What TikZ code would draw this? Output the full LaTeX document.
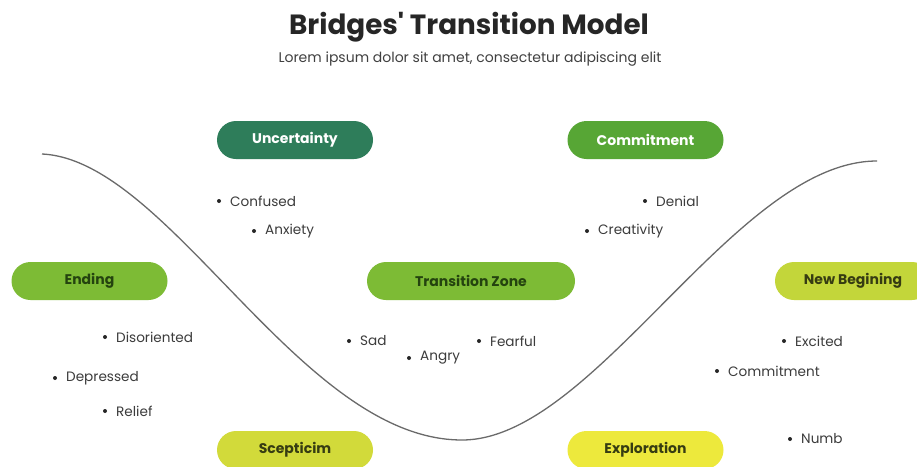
\documentclass[tikz,border=0pt]{standalone}
\usepackage{fontspec}
\setmainfont{Poppins}[Ligatures=TeXOff]
\newlength{\du}
\setlength{\du}{1pt}
\definecolor{uncgreen}{HTML}{2E7D5A}
\definecolor{comgreen}{HTML}{57A635}
\definecolor{endgreen}{HTML}{7DBB35}
\definecolor{newgreen}{HTML}{C3D63A}
\definecolor{scepyellow}{HTML}{D2DA3A}
\definecolor{expyellow}{HTML}{EDE93C}
\definecolor{darkgreentext}{HTML}{24430F}
\definecolor{olivetext}{HTML}{363C12}
\definecolor{itemgrey}{HTML}{3C3C3C}
\definecolor{curvegrey}{HTML}{6A6A6A}
\tikzset{
  stage/.style={rounded corners=19\du, minimum width=156\du, minimum height=38\du, inner sep=0pt, font=\bfseries\fontsize{14}{16}\selectfont},
  bullet/.style={circle, fill=black!85, inner sep=0pt, minimum size=4\du},
  item/.style={anchor=west, inner sep=0pt, text=itemgrey, font=\fontsize{13.6}{15}\selectfont},
}

\begin{document}
\begin{tikzpicture}
\pgftransformxscale{1.000000}
\pgftransformyscale{-1.000000}
\useasboundingbox (0\du,0\du) rectangle (917\du,466\du);
\clip (0\du,0\du) rectangle (917\du,466\du);
\fill[white] (0\du,0\du) rectangle (917\du,466\du);
% title
\node[font=\bfseries\fontsize{27.8}{32}\selectfont, text=black!85] (title) at (469\du,27\du){Bridges' Transition Model};
\node[font=\fontsize{14}{16}\selectfont, text=black!75] (subtitle) at (470\du,59\du){Lorem ipsum dolor sit amet, consectetur adipiscing elit};
% curve
\draw[curvegrey, line width=1.3\du] (42\du,154\du) .. controls (170\du,160\du) and (300\du,440\du) .. (462\du,440\du)
  .. controls (595\du,440\du) and (735\du,161\du) .. (877\du,161\du);
% stages
\node[stage, fill=uncgreen, text=white] (uncertainty) at (295\du,140\du){Uncertainty};
\node[stage, fill=comgreen, text=white] (commitment) at (645.5\du,140\du){Commitment};
\node[stage, fill=endgreen, text=darkgreentext] (ending) at (89.5\du,281\du){Ending};
\node[stage, fill=endgreen, text=darkgreentext, minimum width=208\du] (transition) at (471\du,281\du){Transition Zone};
\node[stage, fill=newgreen, text=olivetext] (newbegin) at (853\du,281\du){New Begining};
\node[stage, fill=scepyellow, text=olivetext] (scepticism) at (295\du,450\du){Scepticim};
\node[stage, fill=expyellow, text=olivetext] (exploration) at (645.5\du,450\du){Exploration};
% items
\node[bullet] (b1) at (219\du,201\du){};
\node[item] (confused) at (230\du,201\du){Confused};
\node[bullet] (b2) at (254\du,231\du){};
\node[item] (anxiety) at (265\du,231\du){Anxiety};
\node[bullet] (b3) at (645\du,201\du){};
\node[item] (denial) at (656\du,201\du){Denial};
\node[bullet] (b4) at (587\du,231\du){};
\node[item] (creativity) at (598\du,231\du){Creativity};
\node[bullet] (b5) at (105\du,337\du){};
\node[item] (disoriented) at (116\du,337\du){Disoriented};
\node[bullet] (b6) at (55\du,378\du){};
\node[item] (depressed) at (66\du,378\du){Depressed};
\node[bullet] (b7) at (105\du,411\du){};
\node[item] (relief) at (116\du,411\du){Relief};
\node[bullet] (b8) at (349\du,341\du){};
\node[item] (sad) at (360\du,341\du){Sad};
\node[bullet] (b9) at (409\du,358\du){};
\node[item] (angry) at (420\du,358\du){Angry};
\node[bullet] (b10) at (479\du,341\du){};
\node[item] (fearful) at (490\du,341\du){Fearful};
\node[bullet] (b11) at (784\du,341\du){};
\node[item] (excited) at (795\du,341\du){Excited};
\node[bullet] (b12) at (717\du,371\du){};
\node[item] (commit2) at (728\du,371\du){Commitment};
\node[bullet] (b13) at (790\du,439\du){};
\node[item] (numb) at (801\du,439\du){Numb};
\end{tikzpicture}
\end{document}
